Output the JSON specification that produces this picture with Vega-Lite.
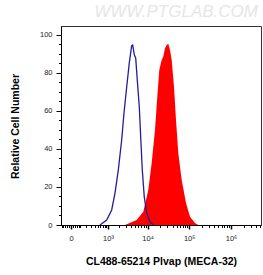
{
  "$schema": "https://vega.github.io/schema/vega-lite/v6.json",
  "autosize": {"type": "none"},
  "padding": {"left": 61, "top": 26, "right": 2, "bottom": 50},
  "width": 200,
  "height": 199,
  "background": "white",
  "title": {"text": "WWW.PTGLAB.COM", "anchor": "end", "fontSize": 17, "fontStyle": "italic", "fontWeight": "normal", "font": "Liberation Sans", "color": "#e6e6e6", "offset": 5, "dx": -3},
  "config": {"view": {"stroke": "#333", "strokeWidth": 1}},
  "datasets": {
    "stained": [
      {"fl": 2780, "count": 0},
      {"fl": 5429, "count": 2.6},
      {"fl": 7871, "count": 7.0},
      {"fl": 10410, "count": 18.4},
      {"fl": 12579, "count": 32.6},
      {"fl": 15120, "count": 50},
      {"fl": 17190, "count": 67.5},
      {"fl": 19200, "count": 81.6},
      {"fl": 21930, "count": 86.8},
      {"fl": 23970, "count": 88.6},
      {"fl": 26310, "count": 93},
      {"fl": 28920, "count": 94.7},
      {"fl": 31610, "count": 95.3},
      {"fl": 34730, "count": 92.1},
      {"fl": 38130, "count": 86.8},
      {"fl": 43320, "count": 72.6},
      {"fl": 48380, "count": 55.3},
      {"fl": 54890, "count": 37.9},
      {"fl": 66240, "count": 23.7},
      {"fl": 83990, "count": 11.6},
      {"fl": 104690, "count": 4.4},
      {"fl": 137910, "count": 1.1},
      {"fl": 165450, "count": 0}
    ],
    "control": [
      {"fl": 590, "count": 0},
      {"fl": 920, "count": 2.6},
      {"fl": 1259, "count": 7.9},
      {"fl": 1539, "count": 16.8},
      {"fl": 1876, "count": 28.9},
      {"fl": 2292, "count": 44.7},
      {"fl": 2622, "count": 58.9},
      {"fl": 3067, "count": 72.6},
      {"fl": 3563, "count": 85.3},
      {"fl": 4086, "count": 94.4},
      {"fl": 4326, "count": 94.7},
      {"fl": 4739, "count": 89.5},
      {"fl": 5129, "count": 87.9},
      {"fl": 5615, "count": 76.2},
      {"fl": 6288, "count": 62.1},
      {"fl": 6803, "count": 46.3},
      {"fl": 7443, "count": 28.9},
      {"fl": 8324, "count": 14.7},
      {"fl": 9518, "count": 6.3},
      {"fl": 11447, "count": 1.6},
      {"fl": 13751, "count": 0}
    ]
  },
  "encoding": {
    "x": {
      "field": "fl", "type": "quantitative",
      "scale": {"type": "symlog", "constant": 150, "domain": [-110, 5220000], "nice": false, "zero": false},
      "axis": {
        "values": [-100, -80, -60, -40, -20, 0, 20, 40, 60, 80, 100, 200, 300, 400, 500, 600, 700, 800, 900, 1000, 2000, 3000, 4000, 5000, 6000, 7000, 8000, 9000, 10000, 20000, 30000, 40000, 50000, 60000, 70000, 80000, 90000, 100000, 200000, 300000, 400000, 500000, 600000, 700000, 800000, 900000, 1000000, 2000000, 3000000, 4000000, 5000000],
        "labelExpr": "datum.value === 0 ? '0' : datum.value === 1000 ? '10³' : datum.value === 10000 ? '10⁴' : datum.value === 100000 ? '10⁵' : datum.value === 1000000 ? '10⁶' : ''",
        "labelOverlap": false,
        "labelBound": false,
        "labelFlush": false,
        "labelFont": "Liberation Sans",
        "labelFontSize": 7.5,
        "labelColor": "#222",
        "labelPadding": 5,
        "tickColor": "#000",
        "domainColor": "#000",
        "tickSize": {"condition": {"test": "datum.value === 0 || datum.value === 1000 || datum.value === 10000 || datum.value === 100000 || datum.value === 1000000", "value": 4}, "value": 2.5},
        "tickWidth": {"condition": {"test": "datum.value === 0 || datum.value === 1000 || datum.value === 10000 || datum.value === 100000 || datum.value === 1000000", "value": 1.5}, "value": 1},
        "grid": false,
        "title": "CL488-65214 Plvap (MECA-32)",
        "titleFont": "Liberation Sans",
        "titleFontSize": 10.5,
        "titleFontWeight": "bold",
        "titleColor": "#000",
        "titleX": 100,
        "titleY": 36,
        "titleBaseline": "middle"
      }
    },
    "y": {
      "field": "count", "type": "quantitative",
      "scale": {"domain": [0, 104.7], "nice": false},
      "axis": {
        "values": [0, 5, 10, 15, 20, 25, 30, 35, 40, 45, 50, 55, 60, 65, 70, 75, 80, 85, 90, 95, 100],
        "labelExpr": "datum.value % 20 === 0 ? datum.label : ''",
        "labelOverlap": false,
        "labelFont": "Liberation Sans",
        "labelFontSize": 7.5,
        "labelColor": "#222",
        "labelPadding": 4,
        "tickColor": "#000",
        "domainColor": "#000",
        "tickSize": {"condition": {"test": "datum.value % 20 === 0", "value": 5}, "value": 2.5},
        "grid": false,
        "title": "Relative Cell Number",
        "titleFont": "Liberation Sans",
        "titleFontSize": 10.5,
        "titleFontWeight": "bold",
        "titleColor": "#000",
        "titleAngle": -90,
        "titleX": -46,
        "titleY": 100,
        "titleBaseline": "middle",
        "titleAlign": "center"
      }
    }
  },
  "layer": [
    {"data": {"name": "stained"}, "mark": {"type": "area", "color": "#ff0000", "opacity": 1, "clip": true}},
    {"data": {"name": "control"}, "mark": {"type": "line", "color": "#1f1f9a", "strokeWidth": 1.3, "clip": true}}
  ]
}
